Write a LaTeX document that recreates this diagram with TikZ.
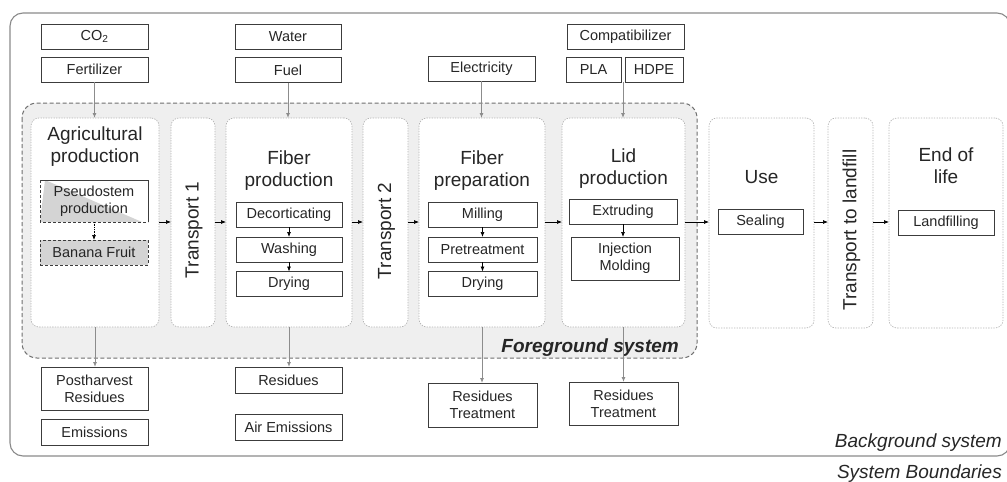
\documentclass[tikz,border=0pt]{standalone}
\usepackage{fontspec}
\setmainfont{Liberation Sans}
\usetikzlibrary{arrows.meta,calc}

\definecolor{txt}{HTML}{262626}
\definecolor{subline}{HTML}{3C3C3C}
\definecolor{stageline}{HTML}{B4B4B4}
\definecolor{fgfill}{HTML}{EFEFEF}
\definecolor{fgline}{HTML}{6E6E6E}
\definecolor{outline}{HTML}{8A8A8A}
\definecolor{ioline}{HTML}{8C8C8C}
\definecolor{greyfill}{HTML}{D4D4D4}

\tikzset{
  stagebox/.style={draw=stageline, line width=0.7pt, dash pattern=on 1.3pt off 1.3pt,
    fill=white, rounded corners=8pt, inner sep=0pt, outer sep=0pt},
  subbox/.style={draw=subline, line width=1pt, fill=white, inner sep=0pt, outer sep=0pt,
    align=center, text=txt, font=\fontsize{14.5}{17}\selectfont},
  dashbox/.style={subbox, dash pattern=on 3pt off 2pt},
  title/.style={align=center, text=txt, font=\fontsize{19}{22}\selectfont, inner sep=0pt},
  vtitle/.style={title, rotate=90},
  flow/.style={draw=black, line width=0.7pt, -{Latex[length=5pt,width=4pt]}},
  io/.style={draw=ioline, line width=0.9pt, -{Latex[length=5pt,width=4pt]}},
  note/.style={text=txt, inner sep=0pt, font=\fontsize{19}{22}\selectfont\itshape},
}

\begin{document}
\begin{tikzpicture}[x=1pt,y=-1pt]
\clip (0,0) rectangle (1007,482);

% system boundary and foreground area
\draw[outline, line width=1.1pt, rounded corners=13pt] (10,13) rectangle (1010,456);
\draw[fill=fgfill, draw=fgline, line width=1pt, dash pattern=on 4pt off 2.5pt, rounded corners=15pt]
  (22,103) rectangle (697,358);

% life-cycle stages
\node[stagebox, minimum width=128pt, minimum height=209pt] (agri)  at (95,222.5) {};
\node[stagebox, minimum width=44pt,  minimum height=209pt] (tra1)  at (193,222.5) {};
\node[stagebox, minimum width=126pt, minimum height=209pt] (fprod) at (289,222.5) {};
\node[stagebox, minimum width=45pt,  minimum height=209pt] (tra2)  at (385.5,222.5) {};
\node[stagebox, minimum width=126pt, minimum height=209pt] (fprep) at (482,222.5) {};
\node[stagebox, minimum width=123pt, minimum height=209pt] (lid)   at (623.5,222.5) {};
\node[stagebox, minimum width=105pt, minimum height=210pt] (use)   at (761.5,223) {};
\node[stagebox, minimum width=45pt,  minimum height=210pt] (tral)  at (850.5,223) {};
\node[stagebox, minimum width=114pt, minimum height=210pt] (eol)   at (946,223) {};

% stage titles
\node[title] (tagri)  at (95,147)    {Agricultural\\production};
\node[title] (tfprod) at (289,170.5) {Fiber\\production};
\node[title] (tfprep) at (482,171)   {Fiber\\preparation};
\node[title] (tlid)   at (623.5,169) {Lid\\production};
\node[title] (tuse)   at (761.5,177) {Use};
\node[title] (teol)   at (946,166)   {End of\\life};
\node[vtitle] (ttra1) at (194,230)   {Transport 1};
\node[vtitle] (ttra2) at (386.5,231) {Transport 2};
\node[vtitle] (ttral) at (851.5,230) {Transport to landfill};

% inputs
\node[subbox, minimum width=107pt, minimum height=25pt] (co2)    at (94.5,36.5)  {CO\textsubscript{2}};
\node[subbox, minimum width=107pt, minimum height=25pt] (fert)   at (94.5,69.5)  {Fertilizer};
\node[subbox, minimum width=106pt, minimum height=25pt] (water)  at (288,36.5)   {Water};
\node[subbox, minimum width=106pt, minimum height=25pt] (fuel)   at (288,70)     {Fuel};
\node[subbox, minimum width=107pt, minimum height=25pt] (elec)   at (481.5,68.5) {Electricity};
\node[subbox, minimum width=117pt, minimum height=25pt] (compat) at (625.5,36.5) {Compatibilizer};
\node[subbox, minimum width=55pt,  minimum height=25pt] (pla)    at (593.5,69.5) {PLA};
\node[subbox, minimum width=58pt,  minimum height=25pt] (hdpe)   at (654,69.5)   {HDPE};

% process steps: pseudostem box is shaded below its diagonal,
% solid on its white sides and dashed on its shaded sides
\node[subbox, draw=none, minimum width=108pt, minimum height=42pt] (pseudobg) at (94,201) {};
\fill[fill=greyfill] ($(pseudobg.north west)+(5pt,0pt)$) -- (pseudobg.south west)
  -- ($(pseudobg.south east)+(-6pt,0pt)$) -- cycle;
\draw[subline, line width=1pt] (pseudobg.south east) -- (pseudobg.north east) -- (pseudobg.north west);
\draw[subline, line width=1pt, dash pattern=on 3pt off 2pt]
  (pseudobg.north west) -- (pseudobg.south west) -- (pseudobg.south east);
\node[subbox, draw=none, fill=none, minimum width=108pt, minimum height=42pt] (pseudo) at (pseudobg) {Pseudostem\\production};
\node[dashbox, fill=greyfill, minimum width=108pt, minimum height=25pt] (banana) at (94,252.5) {Banana Fruit};

\node[subbox, minimum width=106pt, minimum height=25pt] (dec)   at (289,214.5) {Decorticating};
\node[subbox, minimum width=106pt, minimum height=25pt] (wash)  at (289,249.5) {Washing};
\node[subbox, minimum width=106pt, minimum height=25pt] (dry1)  at (289,284)   {Drying};
\node[subbox, minimum width=109pt, minimum height=25pt] (mill)  at (482.5,214.5) {Milling};
\node[subbox, minimum width=109pt, minimum height=25pt] (pret)  at (482.5,249.5) {Pretreatment};
\node[subbox, minimum width=109pt, minimum height=25pt] (dry2)  at (482.5,284)   {Drying};
\node[subbox, minimum width=108pt, minimum height=25pt] (extr)  at (623,211.5)   {Extruding};
\node[subbox, minimum width=108pt, minimum height=43pt] (inj)   at (625,258.5)   {Injection\\Molding};
\node[subbox, minimum width=85pt,  minimum height=25pt] (seal)  at (760.5,221.5) {Sealing};
\node[subbox, minimum width=96pt,  minimum height=25pt] (landf) at (946,222.5)   {Landfilling};

% outputs
\node[subbox, minimum width=107pt, minimum height=43pt] (post)  at (94.5,388.5) {Postharvest\\Residues};
\node[subbox, minimum width=107pt, minimum height=26pt] (emis)  at (94.5,432)   {Emissions};
\node[subbox, minimum width=107pt, minimum height=26pt] (resid) at (288.5,380)  {Residues};
\node[subbox, minimum width=107pt, minimum height=26pt] (air)   at (288.5,427)  {Air Emissions};
\node[subbox, minimum width=109pt, minimum height=44pt] (rt1)   at (482.5,405)  {Residues\\Treatment};
\node[subbox, minimum width=109pt, minimum height=43pt] (rt2)   at (623.5,403.5) {Residues\\Treatment};

% system labels
\node[note, font=\fontsize{19}{22}\selectfont\bfseries\itshape, anchor=base east] (fglabel) at (679,352) {Foreground system};
\node[note, anchor=base east] (bglabel) at (1002,447) {Background system};
\node[note, anchor=base east] (sblabel) at (1002,478) {System Boundaries};

% main flow
\coordinate (flowline) at (0,222);
\draw[flow] (agri.east  |- flowline) -- (tra1.west  |- flowline);
\draw[flow] (tra1.east  |- flowline) -- (fprod.west |- flowline);
\draw[flow] (fprod.east |- flowline) -- (tra2.west  |- flowline);
\draw[flow] (tra2.east  |- flowline) -- (fprep.west |- flowline);
\draw[flow] (fprep.east |- flowline) -- (lid.west   |- flowline);
\draw[flow] (lid.east   |- flowline) -- (use.west   |- flowline);
\draw[flow] (use.east   |- flowline) -- (tral.west  |- flowline);
\draw[flow] (tral.east  |- flowline) -- (eol.west   |- flowline);

% steps inside stages
\draw[flow, densely dotted] (pseudo.south) -- (banana.north);
\draw[flow] (dec.south)  -- (wash.south |- wash.north);
\draw[flow] (wash.south) -- (dry1.south |- dry1.north);
\draw[flow] (mill.south) -- (pret.north);
\draw[flow] (pret.south) -- (dry2.north);
\draw[flow] (extr.south) -- (extr.south |- inj.north);

% inputs into stages
\coordinate (plahdpe) at ($(pla.south east)!0.5!(hdpe.south west)$);
\draw[io] (fert.south)  -- (fert.south |- agri.north);
\draw[io] (fuel.south)  -- (fuel.south |- fprod.north);
\draw[io] (elec.south)  -- (elec.south |- fprep.north);
\draw[io] (plahdpe)     -- (plahdpe |- lid.north);

% outputs from stages
\draw[io] (agri.south)  -- (agri.south |- post.north);
\draw[io] (fprod.south) -- (fprod.south |- resid.north);
\draw[io] (fprep.south) -- (fprep.south |- rt1.north);
\draw[io] (lid.south)   -- (lid.south |- rt2.north);
\end{tikzpicture}
\end{document}
